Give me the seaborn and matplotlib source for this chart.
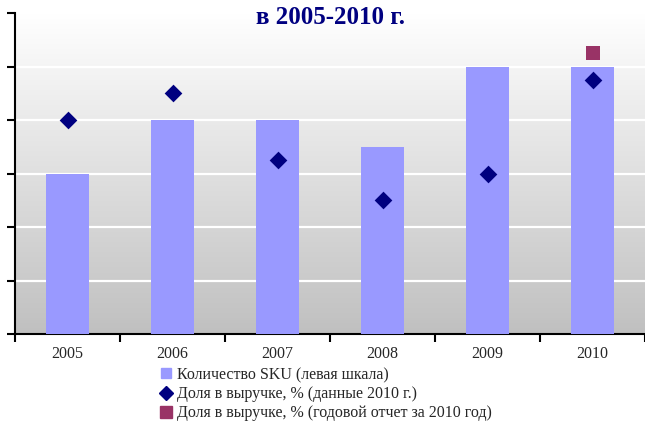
import numpy as np
import pandas as pd
import matplotlib
matplotlib.use("Agg")
import matplotlib.pyplot as plt
from matplotlib.lines import Line2D
from matplotlib.colors import LinearSegmentedColormap
import seaborn as sns

# Data
years = ["2005", "2006", "2007", "2008", "2009", "2010"]
sku_count = [3.0, 4.0, 4.0, 3.5, 5.0, 5.0]            # left scale
share_2010_data = [40.0, 45.0, 32.5, 25.0, 30.0, 47.5]  # revenue share, %
share_annual_year = ["2010"]
share_annual = [52.5]

title = "в 2005-2010 г."
legend_labels = [
    "Количество SKU (левая шкала)",
    "Доля в выручке, % (данные 2010 г.)",
    "Доля в выручке, % (годовой отчет за 2010 год)",
]

bar_color = "#9999ff"
diamond_color = "#000080"
square_color = "#993366"

sns.set_theme(style="white")
plt.rcParams["font.family"] = ["Liberation Serif", "DejaVu Serif"]

fig = plt.figure(figsize=(6.45, 4.21), dpi=100)
ax = fig.add_axes([15 / 645, (421 - 334) / 421, 630 / 645, 321 / 421])

# Vertical white-to-grey gradient behind the plot
grad = np.linspace(0, 1, 256).reshape(-1, 1)
cmap = LinearSegmentedColormap.from_list("bg", ["#c0c0c0", "#ffffff"])
ax.imshow(grad, extent=[0, 1, 0, 1], transform=ax.transAxes, aspect="auto",
          cmap=cmap, origin="lower", zorder=0)

df = pd.DataFrame({"year": years, "sku": sku_count})
sns.barplot(data=df, x="year", y="sku", order=years, color=bar_color,
            saturation=1, width=0.41, linewidth=0, edgecolor="none",
            ax=ax, zorder=3)

ax.set_ylim(0, 6)
ax.set_xlim(-0.5, 5.5)
ax.set_yticks(np.arange(0, 7, 1))
ax.set_yticklabels([])
for yv in range(1, 6):
    ax.axhline(yv, color="white", lw=1.6, zorder=1)

ax.set_xticks(np.arange(-0.5, 6, 1))
ax.set_xticklabels([])
ax.set_xticks(np.arange(0, 6), minor=True)
ax.set_xticklabels(years, minor=True, fontsize=11.5)
ax.tick_params(axis="x", which="major", direction="out", length=6, width=1.5,
               color="black", bottom=True)
ax.tick_params(axis="x", which="minor", length=0, pad=9)
ax.tick_params(axis="y", direction="out", length=6, width=1.5, color="black",
               left=True)
ax.set_xlabel("")
ax.set_ylabel("")
for side in ["top", "right"]:
    ax.spines[side].set_visible(False)
for side in ["left", "bottom"]:
    ax.spines[side].set_color("black")
    ax.spines[side].set_linewidth(1.5)

# Secondary (hidden) scale for revenue share
ax2 = ax.twinx()
sns.stripplot(x=years, y=share_2010_data, order=years, jitter=False,
              marker="D", size=9, color=diamond_color, linewidth=0, ax=ax2,
              zorder=5)
sns.stripplot(x=share_annual_year, y=share_annual, order=years, jitter=False,
              marker="s", size=10, color=square_color, linewidth=0, ax=ax2,
              zorder=5)
ax2.set_ylim(0, 60)
ax2.set_xlim(-0.5, 5.5)
ax2.set_yticks([])
ax2.set_xlabel("")
ax2.set_ylabel("")
for s in ax2.spines.values():
    s.set_visible(False)

fig.text(330 / 645, 1 - 18 / 421, title, ha="center", va="center",
         fontsize=18, fontweight="bold", color="#000080")

handles = [
    Line2D([], [], marker="s", ls="none", color=bar_color, markersize=7.5),
    Line2D([], [], marker="D", ls="none", color=diamond_color, markersize=7),
    Line2D([], [], marker="s", ls="none", color=square_color, markersize=8),
]
fig.legend(handles, legend_labels, loc="upper left",
           bbox_to_anchor=(160 / 645, 1 - 367 / 421), frameon=False,
           fontsize=11.5, handlelength=0.8, handletextpad=0.25,
           labelspacing=0.2, borderpad=0, borderaxespad=0)

fig.savefig("out.png", dpi=100)
